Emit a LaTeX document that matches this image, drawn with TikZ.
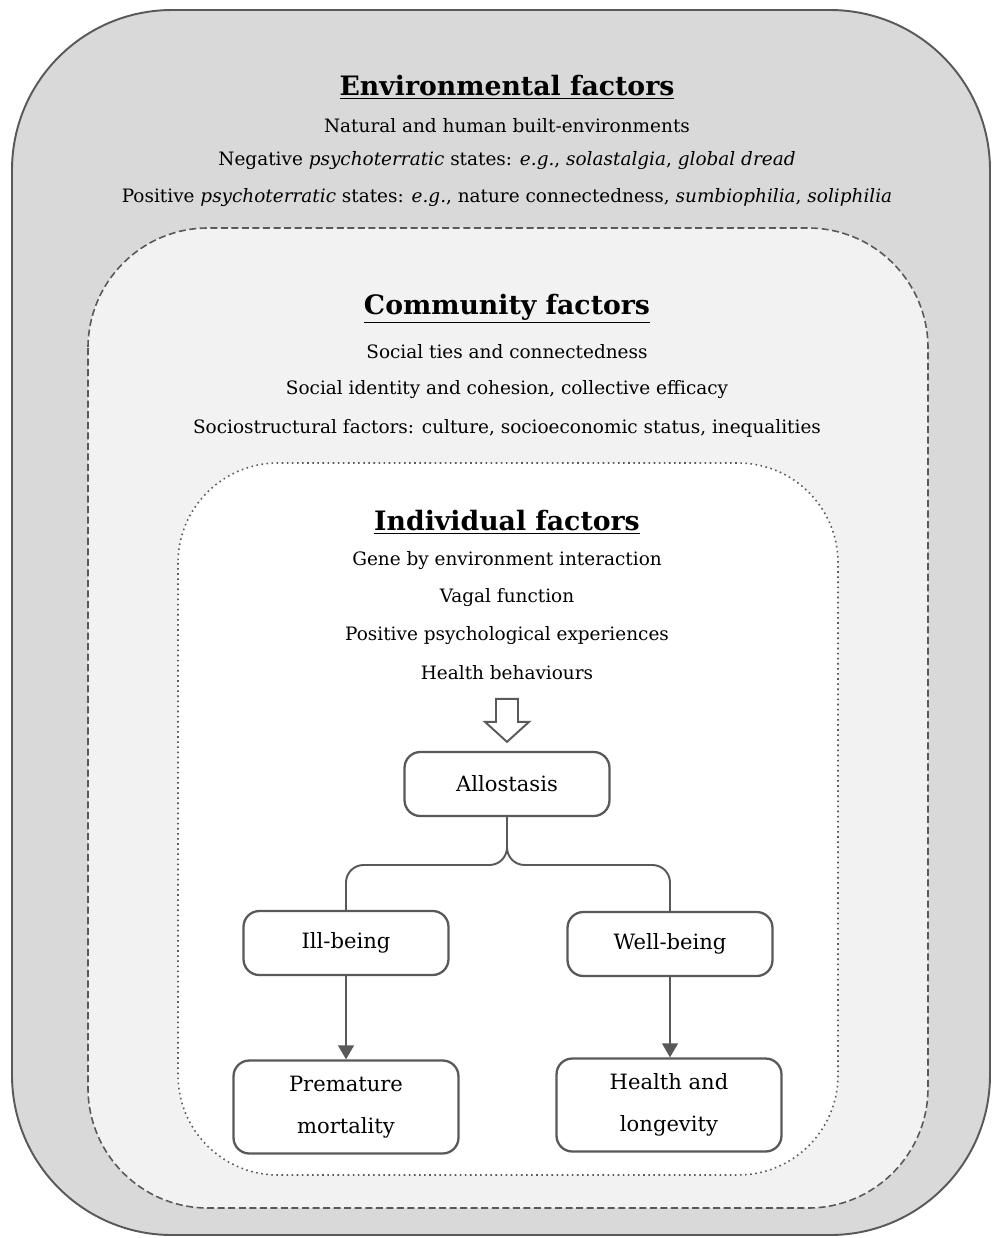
\documentclass[tikz,border=0pt]{standalone}
\usepackage{fontspec}
\setmainfont{DejaVu Serif}
\usetikzlibrary{arrows.meta,positioning}
\definecolor{edgegray}{HTML}{595959}
\definecolor{outerfill}{HTML}{D9D9D9}
\definecolor{midfill}{HTML}{F2F2F2}

\begin{document}
\begin{tikzpicture}[x=0.02cm, y=-0.02cm,
    head/.style={font=\fontsize{15.2}{18}\selectfont\bfseries},
    txt/.style={font=\fontsize{10.5}{12}\selectfont},
    box/.style={draw=edgegray, line width=1.3pt, rounded corners=9pt, fill=white,
        minimum width=4.1cm, minimum height=1.28cm, align=center,
        font=\fontsize{12}{24}\selectfont},
    link/.style={draw=edgegray, line width=1.1pt},
    arr/.style={link, -{Triangle[length=8pt, width=9pt]}}
]
\useasboundingbox (0,0) rectangle (994,1238);

% nested levels
\draw[edgegray, line width=1.1pt, fill=outerfill, rounded corners=3.2cm] (12,10) rectangle (990,1235);
\draw[edgegray, line width=0.9pt, dash pattern=on 4pt off 2pt, fill=midfill, rounded corners=2.4cm] (88,228) rectangle (928,1208);
\draw[edgegray, line width=0.9pt, dotted, fill=white, rounded corners=2cm] (178,463) rectangle (838,1175);

% environmental
\node[head] (envhead) at (507,87) {\underline{Environmental factors}};
\node[txt] (env1) at (507,126) {Natural and human built-environments};
\node[txt] (env2) at (507,161) {Negative \textit{psychoterratic} states: \textit{e.g.}, \textit{solastalgia}, \textit{global dread}};
\node[txt] (env3) at (507,198) {Positive \textit{psychoterratic} states: \textit{e.g.}, nature connectedness, \textit{sumbiophilia}, \textit{soliphilia}};

% community
\node[head] (comhead) at (507,309) {\underline{Community factors}};
\node[txt] (com1) at (507,352) {Social ties and connectedness};
\node[txt] (com2) at (507,390) {Social identity and cohesion, collective efficacy};
\node[txt] (com3) at (507,428) {Sociostructural factors: culture, socioeconomic status, inequalities};

% individual
\node[head] (indhead) at (507,522) {\underline{Individual factors}};
\node[txt] (ind1) at (507,561) {Gene by environment interaction};
\node[txt] (ind2) at (507,598) {Vagal function};
\node[txt] (ind3) at (507,636) {Positive psychological experiences};
\node[txt] (ind4) at (507,673) {Health behaviours};

% outcome boxes
\node[box] (allo) at (507,784) {Allostasis};
\node[box] (ill) at (346,943) {Ill-being};
\node[box] (well) at (670,944) {Well-being};
\node[box, minimum width=4.5cm, minimum height=1.86cm] (prem) at (346,1107) {Premature\\mortality};
\node[box, minimum width=4.5cm, minimum height=1.86cm] (hlth) at (669,1105) {Health and\\longevity};

% hollow arrow into allostasis
\coordinate (tip) at ([yshift=0.18cm]allo.north);
\draw[edgegray, line width=1.1pt, fill=white, line join=miter]
    (tip) -- ++(-22,-20) -- ++(11,0) -- ++(0,-23) -- ++(22,0) -- ++(0,23) -- ++(11,0) -- cycle;

\draw[link, rounded corners=10pt] (allo.south) -- (507,865) -| (ill.north);
\draw[link, rounded corners=10pt] (allo.south) -- (507,865) -| (well.north);
\draw[arr] (ill.south) -- (prem.north);
\draw[arr] (well.south) -- (well.south |- hlth.north);
\end{tikzpicture}
\end{document}
